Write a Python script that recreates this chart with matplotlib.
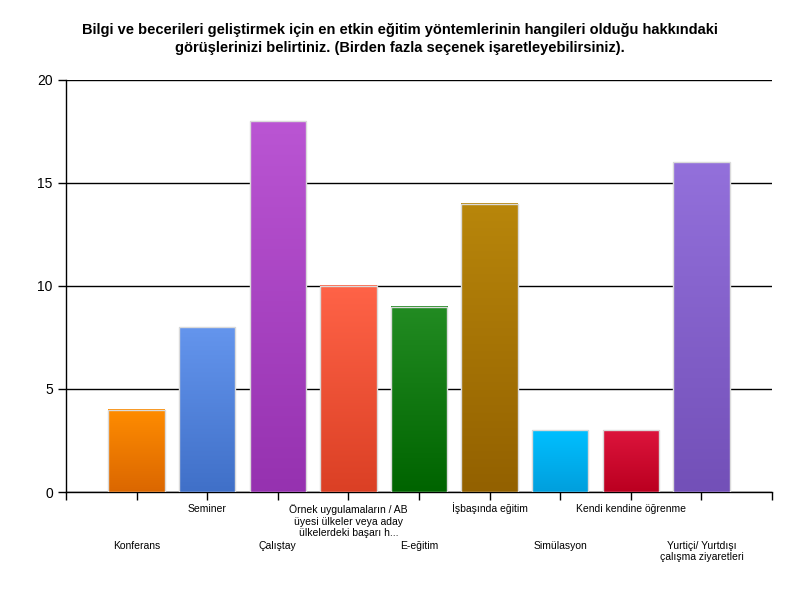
import numpy as np
from matplotlib import pyplot as plt
from matplotlib.colors import to_rgb

plt.rcParams['font.family'] = ['Liberation Sans', 'DejaVu Sans']

title = ("Bilgi ve becerileri geliştirmek için en etkin eğitim yöntemlerinin hangileri olduğu hakkındaki\n"
         "görüşlerinizi belirtiniz. (Birden fazla seçenek işaretleyebilirsiniz).")

categories = ['Konferans', 'Seminer', 'Çalıştay',
              'Örnek uygulamaların / AB\nüyesi ülkeler veya aday\nülkelerdeki başarı h...',
              'E-eğitim', 'İşbaşında eğitim', 'Simülasyon', 'Kendi kendine öğrenme',
              'Yurtiçi/ Yurtdışı\nçalışma ziyaretleri']
values = [4, 8, 18, 10, 9, 14, 3, 3, 16]

# gradient colours, top -> bottom
top_colors = ['#FF8C00', '#6495ED', '#BA55D3', '#FF6347', '#228B22',
              '#B8860B', '#00BFFF', '#DC143C', '#9370DB']
bottom_colors = ['#DB6700', '#4070C8', '#9632B0', '#DB4025', '#006400',
                 '#936100', '#009FDD', '#BB0020', '#7350B8']

fig = plt.figure(figsize=(8, 6), dpi=100)
ax = fig.add_axes([0.0825, 0.18, 0.8825, 0.6867])

width = 0.8
positions = np.arange(1, len(values) + 1)
for x, v, ct, cb in zip(positions, values, top_colors, bottom_colors):
    t = np.array(to_rgb(ct))
    b = np.array(to_rgb(cb))
    grad = np.linspace(0, 1, 64)[:, None]
    img = (t * (1 - grad) + b * grad)[:, None, :]
    ax.imshow(img, extent=[x - width / 2, x + width / 2, 0, v],
              aspect='auto', interpolation='bilinear', zorder=3)
    ax.bar(x, v, width=width, facecolor='none', edgecolor='#DADADA',
           linewidth=1.0, zorder=4)

ax.set_xlim(0, 10)
ax.set_ylim(0, 20)
ax.set_yticks([0, 5, 10, 15, 20])
ax.yaxis.grid(True, color='black', linewidth=1)
ax.set_axisbelow(True)

ax.set_xticks(range(0, 11))
ax.set_xticklabels([''] + categories + [''], fontsize=7.5, linespacing=1.15)
for i, tick in enumerate(ax.xaxis.get_major_ticks()):
    if 1 <= i <= 9:
        tick.set_pad(29 if i % 2 == 1 else 3)
ax.xaxis.get_major_ticks()[6].set_pad(1.5)

ax.tick_params(axis='both', length=6, width=1, color='black')
ax.tick_params(axis='y', labelsize=10)
for s in ['top', 'right']:
    ax.spines[s].set_visible(False)
for s in ['left', 'bottom']:
    ax.spines[s].set_linewidth(1)

fig.text(0.5, 0.935, title, ha='center', va='center', fontsize=10.5,
         fontweight='bold', linespacing=1.35)

fig.savefig('out.png', dpi=100)
